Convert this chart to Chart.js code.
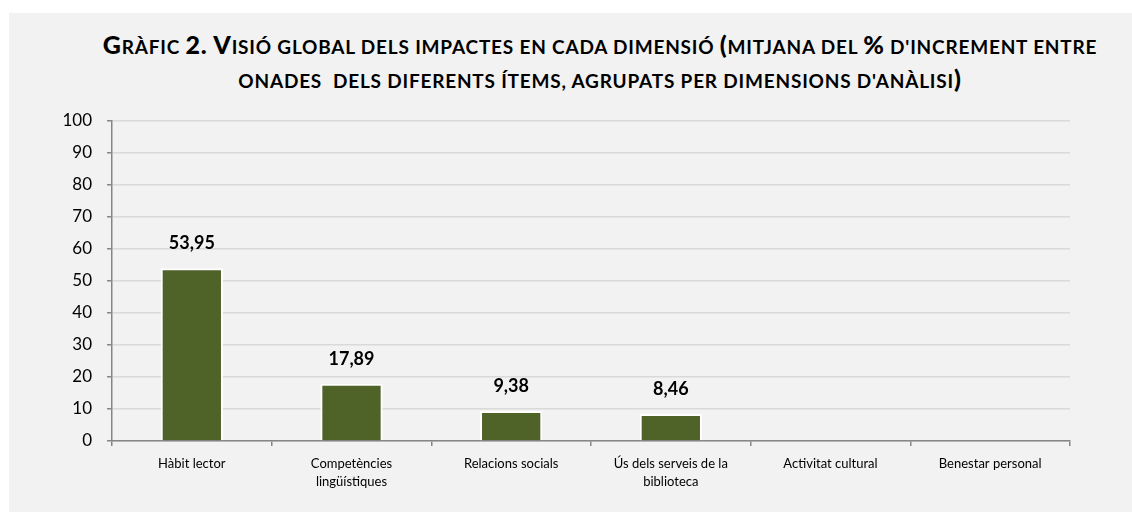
<!DOCTYPE html>
<html>
<head>
<meta charset="utf-8">
<script src="https://cdn.jsdelivr.net/npm/chart.js@4.4.1/dist/chart.umd.min.js"></script>
<style>
    body { margin: 0; background: #ffffff; width: 1132px; height: 512px; overflow: hidden; }
    .panel { position: absolute; left: 9px; top: 13px; width: 1123px; height: 499px; background: #f2f2f2; overflow: hidden; }
    .title {
        position: absolute; left: 0; top: 17px; width: 1182px;
        text-align: center; font-family: Lato, sans-serif; font-weight: bold;
        font-size: 19px; line-height: 34px; letter-spacing: 0.8px; color: #000; white-space: nowrap;
    }
    .title b { font-size: 25px; line-height: 0; }
    canvas { position: absolute; left: 0; top: 0; }
</style>
</head>
<body>
<div class="panel">
    <div class="title"><b>G</b>RÀFIC <b>2. V</b>ISIÓ GLOBAL DELS IMPACTES EN CADA DIMENSIÓ <b>(</b>MITJANA DEL <b>%</b> D'INCREMENT ENTRE<br>ONADES&nbsp; DELS DIFERENTS ÍTEMS, AGRUPATS PER DIMENSIONS D'ANÀLISI<b>)</b></div>
    <canvas id="grafic" width="1123" height="499"></canvas>
</div>
<script>
// Dades del gràfic
const dimensions = [
    'Hàbit lector',
    ['Competències', 'lingüístiques'],
    'Relacions socials',
    ['Ús dels serveis de la', 'biblioteca'],
    'Activitat cultural',
    'Benestar personal'
];
const increments = [53.95, 17.89, 9.38, 8.46, 0, 0];
const yTicks = [0, 10, 20, 30, 40, 50, 60, 70, 80, 90, 100];

// Etiquetes de valor sobre les barres
const valueLabels = {
    id: 'valueLabels',
    afterDatasetsDraw(chart) {
        const ctx = chart.ctx;
        const meta = chart.getDatasetMeta(0);
        ctx.save();
        ctx.font = 'bold 18px Lato, sans-serif';
        ctx.fillStyle = '#000';
        ctx.textAlign = 'center';
        ctx.textBaseline = 'middle';
        meta.data.forEach((bar, i) => {
            const v = increments[i];
            if (!v) return;
            ctx.fillText(v.toFixed(2).replace('.', ','), bar.x, bar.y - 25);
        });
        ctx.restore();
    }
};

new Chart(document.getElementById('grafic'), {
    type: 'bar',
    data: {
        labels: dimensions,
        datasets: [{
            data: increments,
            backgroundColor: '#4f6228',
            borderColor: '#ffffff',
            borderWidth: 2,
            borderSkipped: 'bottom',
            barPercentage: 0.39,
            categoryPercentage: 1
        }]
    },
    options: {
        responsive: false,
        animation: false,
        layout: { padding: { left: 0, right: 62, top: 108, bottom: 0 } },
        plugins: {
            legend: { display: false },
            tooltip: { enabled: false }
        },
        scales: {
            y: {
                min: 0,
                max: 100,
                afterFit: s => { s.width = 103; },
                afterBuildTicks: s => { s.ticks = yTicks.map(v => ({ value: v })); },
                grid: { color: '#d9d9d9', lineWidth: 1.5, tickColor: '#868686', tickLength: 5 },
                border: { color: '#868686', width: 1.5 },
                ticks: { color: '#000', padding: 15, font: { family: 'Lato, sans-serif', size: 17 } }
            },
            x: {
                afterFit: s => { s.height = 71; },
                grid: { drawOnChartArea: false, tickColor: '#868686', tickLength: 5, lineWidth: 1.5 },
                border: { color: '#868686', width: 1.5 },
                ticks: { color: '#000', padding: 9, maxRotation: 0, font: { family: 'Lato, sans-serif', size: 13, lineHeight: 1.35 } }
            }
        }
    },
    plugins: [valueLabels]
});
</script>
</body>
</html>
